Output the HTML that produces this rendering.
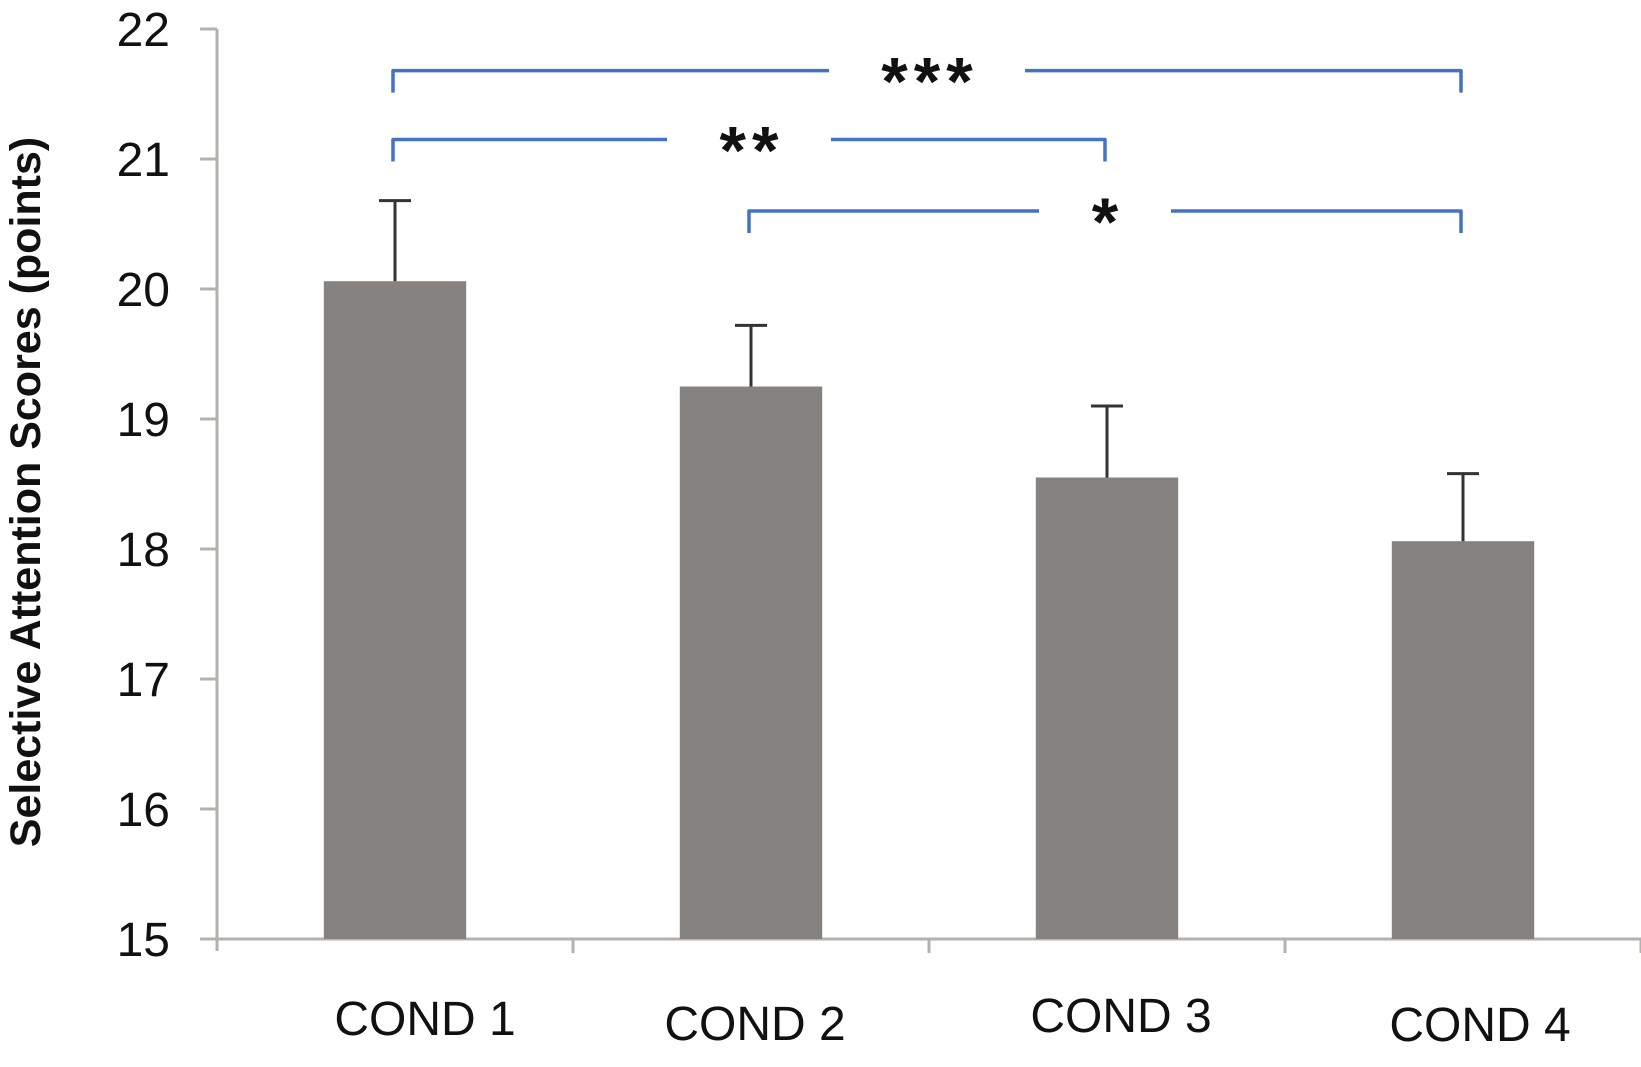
<!DOCTYPE html>
<html><head><meta charset="utf-8"><style>
html,body{margin:0;padding:0;background:#fff;}
svg{display:block;font-family:"Liberation Sans",sans-serif;}
</style></head><body>
<svg id="chart" width="1641" height="1067" viewBox="0 0 1641 1067">
<text transform="translate(40,492) rotate(-90)" text-anchor="middle" font-size="43" font-weight="bold" fill="#111">Selective Attention Scores (points)</text>
<g id="axes"></g><g id="bars"></g><g id="sig"></g>
</svg>
<script>
const categories = ["COND 1","COND 2","COND 3","COND 4"];
const means = [20.06, 19.25, 18.55, 18.06];
const errors = [0.62, 0.47, 0.55, 0.52];
const yTicks = [15,16,17,18,19,20,21,22];
const sigFrom = [0, 0, 1];
const sigTo = [3, 2, 3];
const sigLevel = [21.68, 21.15, 20.6];
const sigLabels = ["***","**","*"];

const NS="http://www.w3.org/2000/svg";
const x0=217, x1=1641, yBase=939, yTop=29, vMin=15, vMax=22;
const band=(x1-x0)/categories.length;
function y(v){return yBase-(v-vMin)/(vMax-vMin)*(yBase-yTop);}
function cx(i){return x0+band*(i+0.5);}
function mk(tag,attrs,parent){const e=document.createElementNS(NS,tag);for(const k in attrs)e.setAttribute(k,attrs[k]);parent.appendChild(e);return e;}
const axes=document.getElementById('axes'),bars=document.getElementById('bars'),sig=document.getElementById('sig');
const axc="#b5b1ad";
let l=mk('line',{x1:x0,y1:yTop,x2:x0,y2:yBase+12,stroke:axc,'stroke-width':3},axes);


l=mk('line',{x1:x0-17,y1:yBase,x2:x1,y2:yBase,stroke:axc,'stroke-width':3},axes);


yTicks.forEach(v=>{
  const t=mk('line',{x1:x0-17,y1:y(v),x2:x0,y2:y(v),stroke:axc,'stroke-width':3},axes);
  
  
  const tx=mk('text',{x:170,y:y(v)+17,'text-anchor':'end','font-size':48,fill:'#111'},axes);
  tx.textContent=v;
  
  
});
const labDy=[0,5,-3,6];
const labDx=[30,4,14,17];
categories.forEach((c,i)=>{
  const bx=x0+band*(i+1);
  const t=mk('line',{x1:bx,y1:yBase,x2:bx,y2:yBase+14,stroke:axc,'stroke-width':3},axes);
  
  
  const w=band*0.4;
  const r=mk('rect',{x:cx(i)-w/2,y:y(means[i]),width:w,height:yBase-y(means[i]),fill:'#858280'},bars);
  
  
  const e=mk('path',{d:`M${cx(i)},${y(means[i])}V${y(means[i]+errors[i])}M${cx(i)-16},${y(means[i]+errors[i])}H${cx(i)+16}`,stroke:'#333','stroke-width':3,fill:'none'},bars);
  
  
  const tx=mk('text',{x:cx(i)+labDx[i],y:1035+labDy[i],'text-anchor':'middle','font-size':48,fill:'#111'},axes);
  tx.textContent=c;
  
  
});
sigFrom.forEach((a,k)=>{
  const xa=cx(a)-2, xb=cx(sigTo[k])-2, yy=y(sigLevel[k]);
  const mid=(xa+xb)/2, half=sigLabels[k].length*16+50;
  const p=mk('path',{d:`M${xa},${yy+22}V${yy}H${mid-half}M${mid+half},${yy}H${xb}V${yy+22}`,stroke:'#4472c4','stroke-width':3.5,fill:'none','stroke-linejoin':'round'},sig);
  
  
  const tx=mk('text',{x:mid+3,y:yy+34,'text-anchor':'middle','font-size':68,'font-weight':'bold','letter-spacing':'6',fill:'#111'},sig);
  tx.textContent=sigLabels[k];
  
  
});
</script>
</body></html>
